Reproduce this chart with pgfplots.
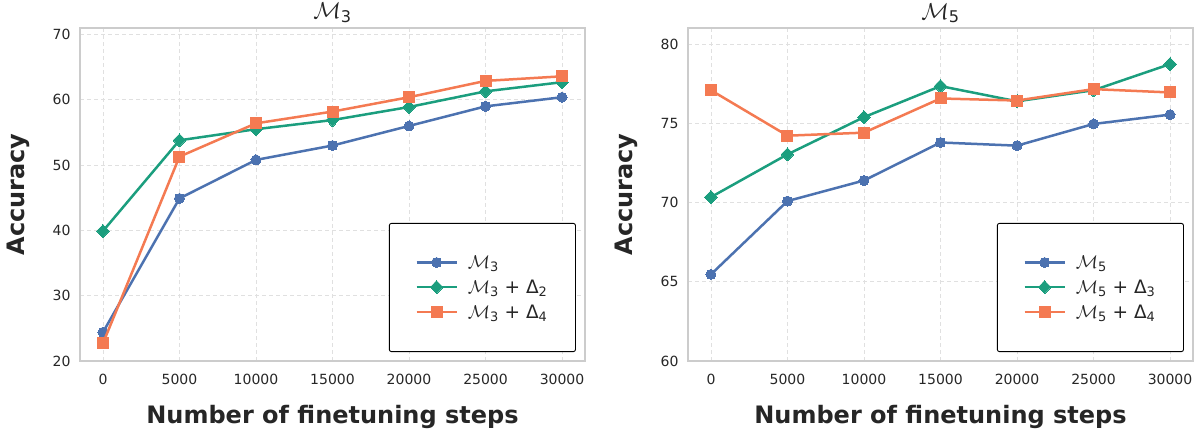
\documentclass[border=0pt]{standalone}
\usepackage{pgfplots}
\pgfplotsset{compat=1.18}
\usepackage{fontspec}
\usepackage{fix-cm}
\setmainfont{DejaVu Sans}
\definecolor{cblue}{HTML}{4C72B0}
\definecolor{cgreen}{HTML}{1B9E7E}
\definecolor{corange}{HTML}{F47A52}
\definecolor{cframe}{HTML}{CCCCCC}
\definecolor{ctext}{HTML}{262626}
\definecolor{cgrid}{HTML}{E0E0E0}

\pgfplotstableread{
x m3 m3d2 m3d4
0 24.4 39.9 22.7
5000 44.9 53.8 51.3
10000 50.8 55.5 56.4
15000 53.0 56.9 58.2
20000 56.0 58.9 60.4
25000 59.0 61.3 62.9
30000 60.4 62.7 63.6
}\leftdata

\pgfplotstableread{
x m5 m5d3 m5d4
0 65.47 70.35 77.10
5000 70.10 73.05 74.23
10000 71.40 75.40 74.42
15000 73.80 77.36 76.58
20000 73.60 76.40 76.45
25000 74.97 77.10 77.17
30000 75.56 78.75 76.96
}\rightdata

\pgfplotsset{
  myaxis/.style={
    scale only axis, width=505pt, height=333pt,
    anchor=south west,
    clip mode=individual,
    xmin=-1500, xmax=31500,
    xtick={0,5000,...,30000},
    scaled x ticks=false,
    /pgf/number format/assume math mode=true,
    /pgf/number format/set thousands separator={},
    major tick length=0pt,
    axis line style={cframe, line width=1.2pt},
    grid=major,
    major grid style={cgrid, dash pattern=on 4pt off 3pt, line width=0.9pt},
    tick label style={font=\fontsize{14}{16}\selectfont, text=ctext},
    xticklabel style={yshift=-10pt},
    yticklabel style={xshift=-6pt},
    xlabel={Number of finetuning steps},
    ylabel={Accuracy},
    label style={font=\fontsize{24}{28}\selectfont\bfseries, text=ctext},
    xlabel style={at={(axis description cs:0.5,-0.168)}, anchor=center},
    ylabel style={at={(axis description cs:-0.123,0.5)}, anchor=center},
    legend style={font=\fontsize{18.5}{22}\selectfont, text=ctext, draw=black, line width=0.9pt,
      rounded corners=2pt, inner xsep=26pt, inner ysep=30pt, row sep=6pt,
      at={(0.982,0.027)}, anchor=south east,
      /tikz/every odd column/.append style={column sep=8pt}},
    legend cell align=left,
    legend image code/.code={\draw[mark repeat=2,mark phase=2] plot coordinates {(0pt,0pt) (20pt,0pt) (40pt,0pt)};},
    every axis plot/.append style={line width=2.5pt},
  },
  sblue/.style={cblue, mark=*, mark size=5pt, mark options={solid, fill=cblue, line width=0pt}},
  sgreen/.style={cgreen, mark=diamond*, mark size=6.5pt, mark options={solid, fill=cgreen, line width=0pt, xscale=1.3}},
  sorange/.style={corange, mark=square*, mark size=5.5pt, mark options={solid, fill=corange, line width=0pt}},
}

\begin{document}
\begin{tikzpicture}
\useasboundingbox (0,0) rectangle (1199pt,432pt);
\begin{axis}[myaxis, at={(80pt,71pt)}, ymin=20, ymax=71, ytick={20,30,...,70}]
\addplot[sblue] table[x=x,y=m3] {\leftdata};
\addlegendentry{$\mathcal{M}$\textsubscript{3}}
\addplot[sgreen] table[x=x,y=m3d2] {\leftdata};
\addlegendentry{$\mathcal{M}$\textsubscript{3} + Δ\textsubscript{2}}
\addplot[sorange] table[x=x,y=m3d4] {\leftdata};
\addlegendentry{$\mathcal{M}$\textsubscript{3} + Δ\textsubscript{4}}
\node[font=\fontsize{23}{26}\selectfont, text=ctext, anchor=south, inner sep=0pt] at (rel axis cs:0.5,1.014) {$\mathcal{M}$\textsubscript{3}};
\end{axis}
\begin{axis}[myaxis, at={(688pt,71pt)}, ymin=60, ymax=81.03, ytick={60,65,...,80}]
\addplot[sblue] table[x=x,y=m5] {\rightdata};
\addlegendentry{$\mathcal{M}$\textsubscript{5}}
\addplot[sgreen] table[x=x,y=m5d3] {\rightdata};
\addlegendentry{$\mathcal{M}$\textsubscript{5} + Δ\textsubscript{3}}
\addplot[sorange] table[x=x,y=m5d4] {\rightdata};
\addlegendentry{$\mathcal{M}$\textsubscript{5} + Δ\textsubscript{4}}
\node[font=\fontsize{23}{26}\selectfont, text=ctext, anchor=south, inner sep=0pt] at (rel axis cs:0.5,1.014) {$\mathcal{M}$\textsubscript{5}};
\end{axis}
\end{tikzpicture}
\end{document}
